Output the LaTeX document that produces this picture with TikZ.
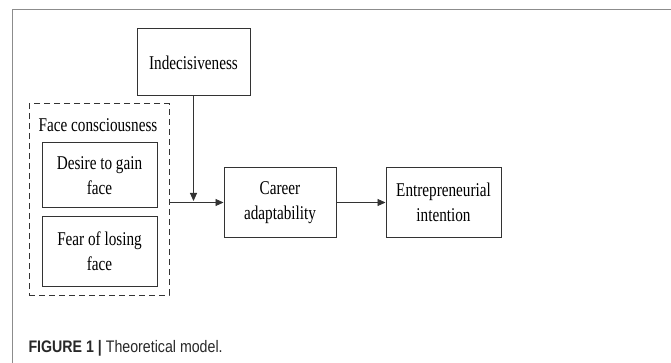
\documentclass[tikz,border=0pt]{standalone}
\usepackage{fontspec}
\setmainfont{Liberation Serif}[FakeStretch=0.78]
\newfontfamily\capfont{Liberation Sans}[FakeStretch=0.85]
\usetikzlibrary{
  arrows.meta,
  positioning,
}
\tikzstyle{box} = [
  rectangle,
  draw=black!80,
  line width=1pt,
  align=center,
  inner sep=0pt,
  font=\fontsize{19.5}{25}\selectfont,
]
\tikzstyle{arrow} = [
  -{Triangle[length=8pt,width=7pt]},
  line width=0.9pt,
  black!80,
]
\definecolor{framegray}{RGB}{140, 140, 140}
\definecolor{captiongray}{RGB}{40, 40, 40}

\begin{document}
\begin{tikzpicture}[x=1pt,y=-1pt,node distance=0pt and 49pt]

        \useasboundingbox (0,0) rectangle (671,363);
        \draw[framegray,line width=1pt] (12,363) -- (12,10) -- (671,10);

        \node[box,minimum width=113,minimum height=67] (indec) at (193.5,62.5) {Indecisiveness};
        \node[box,dash pattern=on 6pt off 4pt,minimum width=140,minimum height=191] (face) at (99,199.5) {};
        \node[font=\fontsize{19.5}{25}\selectfont] (facelabel) at (98,125) {Face consciousness};
        \node[box,minimum width=115,minimum height=65] (desire) at (99.5,175.5) {Desire to gain\\face};
        \node[box,minimum width=115,minimum height=69] (fear) at (99.5,251.5) {Fear of losing\\face};
        \node[box,minimum width=112,minimum height=69] (career) at (280,202.5) {Career\\adaptability};
        \node[box,minimum width=115,minimum height=70] (entre) [right=of career] {Entrepreneurial\\intention};

        \coordinate (join) at (indec.south |- career.west);
        \draw[arrow] (face.east |- career.west) -- (career.west);
        \draw[arrow,shorten >=1.5pt] (indec.south) -- (join);
        \draw[arrow] (career.east) -- (entre.west);

        \node[anchor=base west,text=captiongray,font=\capfont\fontsize{16.7}{20}\selectfont] (caption) at (25,352) {\textbf{FIGURE 1 |} Theoretical model.};

      \end{tikzpicture}
\end{document}
